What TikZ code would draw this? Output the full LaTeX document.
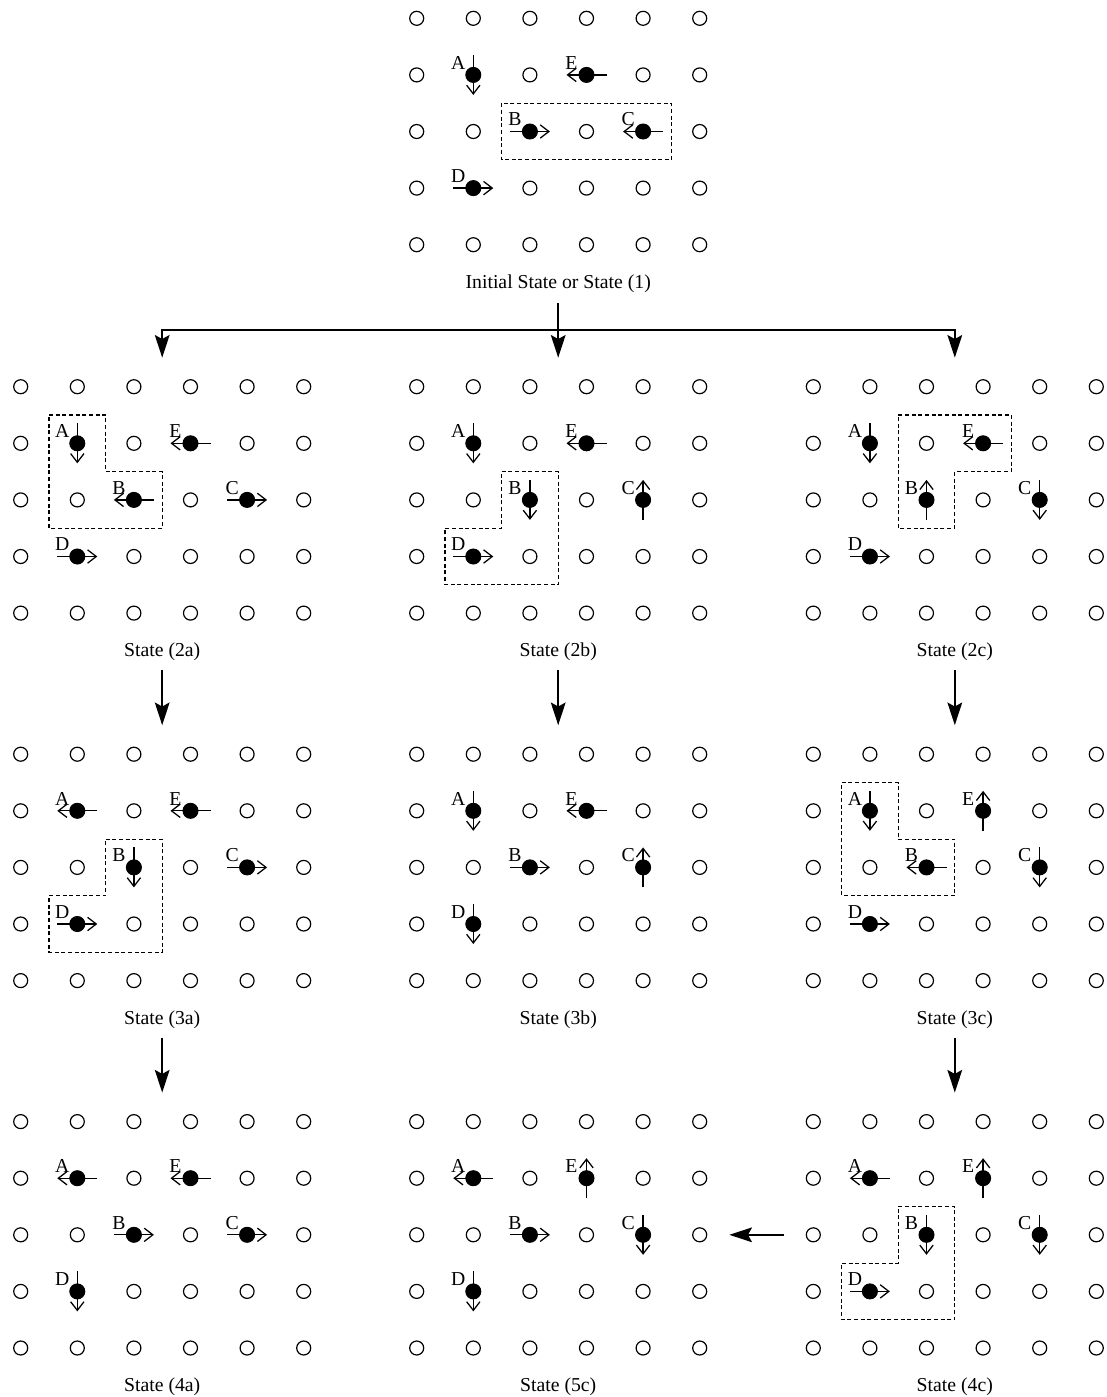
\documentclass[tikz,border=0pt]{standalone}
\usepackage{fontspec}
\setmainfont{Liberation Serif}
\usetikzlibrary{arrows.meta}
\tikzset{
  hole/.style={circle,draw,line width=0.9pt,minimum size=10.5pt,inner sep=0pt},
  ball/.style={circle,fill=black,minimum size=12pt,inner sep=0pt},
  marr/.style={line width=0.95pt,-{Straight Barb[length=6.5pt,width=10pt]}},
  lab/.style={font=\fontsize{14.8}{17}\selectfont,inner sep=0pt},
  captext/.style={font=\fontsize{14.8}{17}\selectfont,inner sep=0pt},
  bigarr/.style={line width=1.5pt,line join=miter,-{Stealth[length=17pt,width=11pt,inset=3pt]}},
  zone/.style={line width=0.8pt,dash pattern=on 3pt off 2pt}
}
\newcommand\stategrid[5]{%
  \begin{scope}[shift={(#2,#3)},x=42.45pt,y=-42.45pt]
    \foreach \cc in {0,...,5}{\foreach \rr in {0,...,4}{\node[hole] (#1-\cc-\rr) at (\cc,\rr) {};}}
    \node[captext] (#1-cap) at (2.5,4.685) {#4};
    #5
  \end{scope}}
\newcommand\mover[5]{%
  \draw[marr] ([shift={({#5+180}:15pt)}]#1-#2-#3.center) -- ([shift={(#5:15pt)}]#1-#2-#3.center);
  \node[ball] (#1-#4) at (#1-#2-#3.center) {};
  \node[lab] (#1-#4-name) at ([xshift=-11.25pt,yshift=9pt]#1-#2-#3.center) {#4};}
\begin{document}
\begin{tikzpicture}[x=0.75pt,y=-0.75pt]
\useasboundingbox (0,0) rectangle (1107,1397);

% State (1)
\stategrid{s1}{416.7}{18.3}{Initial State or State (1)}{\draw[zone] (1.5,1.5) rectangle (4.5,2.5);}
\mover{s1}{1}{1}{A}{270}\mover{s1}{3}{1}{E}{180}\mover{s1}{2}{2}{B}{0}\mover{s1}{4}{2}{C}{180}\mover{s1}{1}{3}{D}{0}

% Tier 2
\stategrid{s2a}{20.7}{386.7}{State (2a)}{\draw[zone] (0.5,0.5) -- (1.5,0.5) -- (1.5,1.5) -- (2.5,1.5) -- (2.5,2.5) -- (0.5,2.5) -- cycle;}
\mover{s2a}{1}{1}{A}{270}\mover{s2a}{3}{1}{E}{180}\mover{s2a}{2}{2}{B}{180}\mover{s2a}{4}{2}{C}{0}\mover{s2a}{1}{3}{D}{0}

\stategrid{s2b}{416.7}{386.7}{State (2b)}{\draw[zone] (1.5,1.5) -- (2.5,1.5) -- (2.5,3.5) -- (0.5,3.5) -- (0.5,2.5) -- (1.5,2.5) -- cycle;}
\mover{s2b}{1}{1}{A}{270}\mover{s2b}{3}{1}{E}{180}\mover{s2b}{2}{2}{B}{270}\mover{s2b}{4}{2}{C}{90}\mover{s2b}{1}{3}{D}{0}

\stategrid{s2c}{813.3}{386.7}{State (2c)}{\draw[zone] (1.5,0.5) -- (3.5,0.5) -- (3.5,1.5) -- (2.5,1.5) -- (2.5,2.5) -- (1.5,2.5) -- cycle;}
\mover{s2c}{1}{1}{A}{270}\mover{s2c}{3}{1}{E}{180}\mover{s2c}{2}{2}{B}{90}\mover{s2c}{4}{2}{C}{270}\mover{s2c}{1}{3}{D}{0}

% Tier 3
\stategrid{s3a}{20.7}{754.2}{State (3a)}{\draw[zone] (1.5,1.5) -- (2.5,1.5) -- (2.5,3.5) -- (0.5,3.5) -- (0.5,2.5) -- (1.5,2.5) -- cycle;}
\mover{s3a}{1}{1}{A}{180}\mover{s3a}{3}{1}{E}{180}\mover{s3a}{2}{2}{B}{270}\mover{s3a}{4}{2}{C}{0}\mover{s3a}{1}{3}{D}{0}

\stategrid{s3b}{416.7}{754.2}{State (3b)}{}
\mover{s3b}{1}{1}{A}{270}\mover{s3b}{3}{1}{E}{180}\mover{s3b}{2}{2}{B}{0}\mover{s3b}{4}{2}{C}{90}\mover{s3b}{1}{3}{D}{270}

\stategrid{s3c}{813.3}{754.2}{State (3c)}{\draw[zone] (0.5,0.5) -- (1.5,0.5) -- (1.5,1.5) -- (2.5,1.5) -- (2.5,2.5) -- (0.5,2.5) -- cycle;}
\mover{s3c}{1}{1}{A}{270}\mover{s3c}{3}{1}{E}{90}\mover{s3c}{2}{2}{B}{180}\mover{s3c}{4}{2}{C}{270}\mover{s3c}{1}{3}{D}{0}

% Tier 4
\stategrid{s4a}{20.7}{1121.6}{State (4a)}{}
\mover{s4a}{1}{1}{A}{180}\mover{s4a}{3}{1}{E}{180}\mover{s4a}{2}{2}{B}{0}\mover{s4a}{4}{2}{C}{0}\mover{s4a}{1}{3}{D}{270}

\stategrid{s5c}{416.7}{1121.6}{State (5c)}{}
\mover{s5c}{1}{1}{A}{180}\mover{s5c}{3}{1}{E}{90}\mover{s5c}{2}{2}{B}{0}\mover{s5c}{4}{2}{C}{270}\mover{s5c}{1}{3}{D}{270}

\stategrid{s4c}{813.3}{1121.6}{State (4c)}{\draw[zone] (1.5,1.5) -- (2.5,1.5) -- (2.5,3.5) -- (0.5,3.5) -- (0.5,2.5) -- (1.5,2.5) -- cycle;}
\mover{s4c}{1}{1}{A}{180}\mover{s4c}{3}{1}{E}{90}\mover{s4c}{2}{2}{B}{270}\mover{s4c}{4}{2}{C}{270}\mover{s4c}{1}{3}{D}{0}

% Connectors
\coordinate (j0) at (558.2,303);
\coordinate (j1) at (558.2,330);
\coordinate (e2a) at (162.2,357.7);
\coordinate (e2b) at (558.2,357.7);
\coordinate (e2c) at (954.8,357.7);
\draw[bigarr] (j0) -- (e2b);
\draw[bigarr] (j1) -| (e2a);
\draw[bigarr] (j1) -| (e2c);

\coordinate (f2a) at (162.2,670);   \coordinate (e3a) at (162.2,725.2);
\coordinate (f2b) at (558.2,670);   \coordinate (e3b) at (558.2,725.2);
\coordinate (f2c) at (954.8,670);   \coordinate (e3c) at (954.8,725.2);
\draw[bigarr] (f2a) -- (e3a);
\draw[bigarr] (f2b) -- (e3b);
\draw[bigarr] (f2c) -- (e3c);

\coordinate (f3a) at (162.2,1037.5); \coordinate (e4a) at (162.2,1092.6);
\coordinate (f3c) at (954.8,1037.5); \coordinate (e4c) at (954.8,1092.6);
\draw[bigarr] (f3a) -- (e4a);
\draw[bigarr] (f3c) -- (e4c);

\coordinate (h0) at (784.3,1234.8);
\coordinate (h1) at (729.3,1234.8);
\draw[bigarr] (h0) -- (h1);
\end{tikzpicture}
\end{document}
